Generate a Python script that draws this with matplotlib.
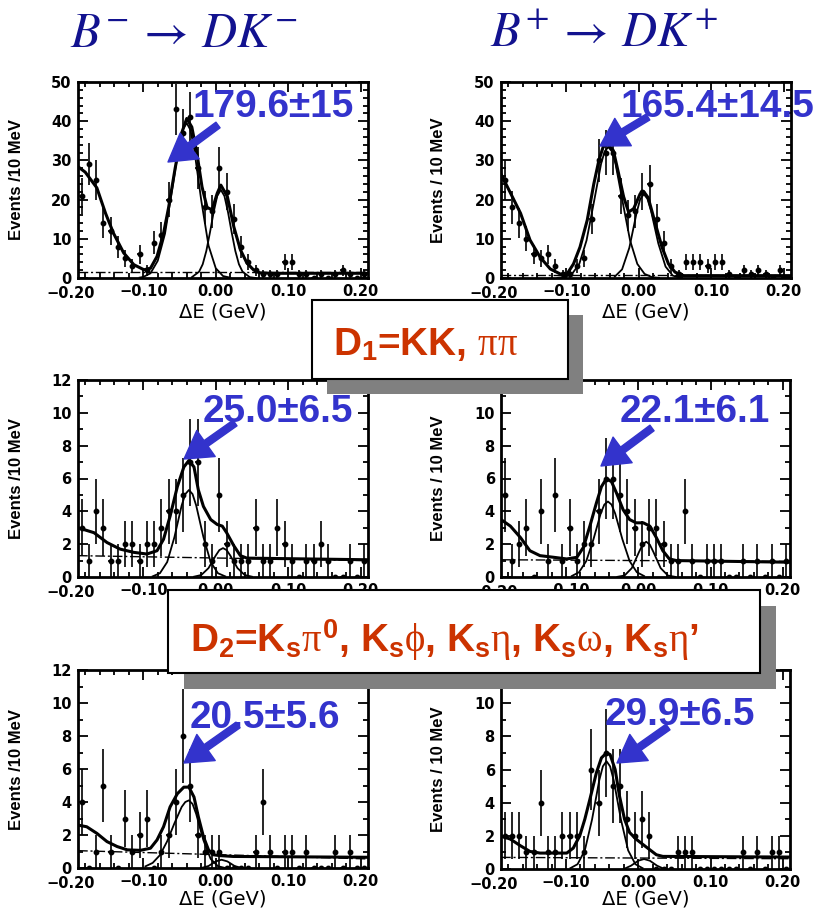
import numpy as np
import matplotlib
matplotlib.use('Agg')
import matplotlib.pyplot as plt
from matplotlib import font_manager as fm
from matplotlib.patches import Rectangle, FancyArrowPatch
from matplotlib.ticker import FixedLocator, FixedFormatter, MultipleLocator
import matplotlib.transforms as mtransforms

W, H, DPI = 822, 909, 100

# ---------------- data ----------------
bin_centers = [-0.185, -0.175, -0.165, -0.155, -0.145, -0.135, -0.125, -0.115, -0.105, -0.095,
               -0.085, -0.075, -0.065, -0.055, -0.045, -0.035, -0.025, -0.015, -0.005, 0.005,
               0.015, 0.025, 0.035, 0.045, 0.055, 0.065, 0.075, 0.085, 0.095, 0.105,
               0.115, 0.125, 0.135, 0.145, 0.155, 0.165, 0.175, 0.185, 0.195, 0.205]

# events per 10 MeV bin
counts_kpi_minus = [21, 29, 25, 14, 12, 8, 5, 3, 6, 2, 9, 11, 20, 43, 37, 41, 28, 18, 17, 28,
                    22, 15, 8, 4, 2, 1, 1, 1, 4, 4, 1, 1, 0, 1, 0, 1, 2, 1, 0, 1]
counts_kpi_plus = [25, 18, 14, 10, 6, 5, 6, 3, 1, 1, 3, 5, 15, 30, 32, 32, 21, 16, 17, 22,
                   24, 15, 9, 3, 1, 4, 4, 4, 3, 4, 4, 1, 0, 2, 1, 2, 1, 0, 2, 0]
counts_d1_minus = [3, 1, 4, 3, 1, 1, 2, 2, 1, 2, 2, 3, 4, 4, 5, 7, 7, 2, 1, 5,
                   2, 1, 1, 1, 3, 1, 1, 3, 2, 1, 0, 1, 1, 2, 1, 0, 0, 1, 0, 1]
counts_d1_plus = [5, 1, 2, 3, 0, 4, 1, 5, 1, 3, 1, 2, 2, 4, 6, 6, 5, 4, 3, 2,
                  3, 3, 2, 1, 1, 4, 1, 0, 1, 1, 1, 0, 0, 1, 0, 1, 0, 1, 0, 1]
counts_d2_minus = [4, 0, 1, 5, 1, 0, 3, 1, 2, 3, 0, 1, 2, 4, 8, 5, 2, 1, 1, 1,
                   0, 0, 0, 0, 1, 4, 1, 0, 1, 1, 0, 1, 0, 0, 0, 1, 0, 1, 0, 0]
counts_d2_plus = [2, 2, 2, 1, 1, 4, 1, 1, 2, 2, 2, 1, 6, 4, 7, 5, 5, 3, 2, 3,
                  2, 0, 0, 0, 1, 1, 1, 0, 0, 0, 0, 0, 0, 1, 0, 1, 0, 1, 1, 0]

# fit curves: total
tot1_x = [-0.19, -0.18, -0.164, -0.152, -0.141, -0.127, -0.113, -0.099, -0.09, -0.081, -0.072, -0.065,
          -0.056, -0.047, -0.04, -0.033, -0.026, -0.019, -0.012, -0.005, 0.002, 0.007, 0.016, 0.025,
          0.034, 0.043, 0.052, 0.061, 0.08, 0.21]
tot1_y = [28.4, 27, 23, 16.5, 11.4, 6.4, 3.4, 2.1, 2.5, 5.5, 11.4, 18, 28, 37, 40.7, 38.5, 31.8, 23.3,
          18, 17.4, 21.6, 23.7, 20.8, 13, 7.2, 3.8, 2.1, 1.3, 1.2, 1.2]
tot2_x = [-0.19, -0.177, -0.163, -0.15, -0.136, -0.122, -0.108, -0.099, -0.09, -0.081, -0.071, -0.062,
          -0.055, -0.049, -0.042, -0.035, -0.028, -0.021, -0.014, -0.007, 0.002, 0.007, 0.013, 0.023,
          0.032, 0.041, 0.05, 0.062, 0.21]
tot2_y = [26.5, 21.7, 16.5, 9.7, 5.3, 2.3, 1.0, 1.0, 3.6, 7.9, 14.8, 24, 30, 33.5, 34, 32.5, 26.8,
          20.8, 16.8, 17.7, 21.5, 22, 20.5, 13.8, 7.9, 3.6, 1.5, 0.6, 0.6]
tot3_x = [-0.19, -0.168, -0.15, -0.132, -0.113, -0.095, -0.081, -0.072, -0.063, -0.053, -0.044, -0.037,
          -0.03, -0.024, -0.017, -0.007, 0.002, 0.009, 0.015, 0.025, 0.034, 0.043, 0.21]
tot3_y = [3.0, 2.7, 2.1, 1.7, 1.5, 1.4, 1.6, 2.3, 3.7, 5.5, 6.7, 7.1, 6.7, 5.3, 4.3, 3.5, 3.2, 3.1,
          2.7, 1.9, 1.3, 1.15, 1.05]
tot4_x = [-0.19, -0.177, -0.163, -0.15, -0.136, -0.117, -0.099, -0.085, -0.076, -0.067, -0.058, -0.051,
          -0.044, -0.037, -0.03, -0.021, -0.012, -0.003, 0.007, 0.016, 0.025, 0.034, 0.043, 0.053, 0.21]
tot4_y = [3.5, 3.1, 2.4, 1.6, 1.3, 1.2, 1.1, 1.2, 1.8, 3.1, 4.5, 5.5, 6.0, 5.8, 5.1, 4.1, 3.5, 3.3,
          3.3, 3.1, 2.4, 1.6, 1.1, 1.0, 0.9]
tot5_x = [-0.19, -0.178, -0.164, -0.15, -0.136, -0.122, -0.104, -0.09, -0.081, -0.072, -0.063, -0.053,
          -0.044, -0.037, -0.03, -0.024, -0.017, -0.01, -0.003, 0.006, 0.024, 0.21]
tot5_y = [2.6, 2.5, 2.1, 1.6, 1.3, 1.1, 1.07, 1.2, 1.7, 2.5, 3.7, 4.5, 4.9, 4.9, 4.3, 3.1, 1.9, 1.1,
          0.8, 0.75, 0.7, 0.65]
tot6_x = [-0.19, -0.177, -0.163, -0.15, -0.136, -0.117, -0.099, -0.09, -0.081, -0.074, -0.067, -0.058,
          -0.051, -0.044, -0.039, -0.032, -0.026, -0.019, -0.012, -0.003, 0.007, 0.016, 0.025, 0.034, 0.21]
tot6_y = [2.0, 1.8, 1.4, 1.06, 0.96, 0.96, 0.96, 1.26, 2.0, 3.0, 4.2, 5.8, 6.7, 7.0, 6.9, 6.0, 4.4,
          3.0, 2.2, 1.8, 1.46, 1.16, 0.86, 0.76, 0.72]

# fit curves: D K signal component
sig1_x = [-0.105, -0.1, -0.09, -0.08, -0.07, -0.06, -0.05, -0.045, -0.04, -0.035, -0.03, -0.02, -0.01, 0.0, 0.01, 0.02]
sig1_y = [0.1, 0.27, 1.2, 4.4, 11.3, 22.8, 34.4, 38.1, 39.5, 37.8, 33.2, 19.8, 8.3, 2.5, 0.5, 0.08]
sig2_x = [-0.112, -0.102, -0.092, -0.082, -0.072, -0.062, -0.052, -0.047, -0.042, -0.037, -0.032, -0.022,
          -0.012, -0.002, 0.008, 0.018, 0.028]
sig2_y = [0.04, 0.23, 1.05, 3.6, 9.6, 19.2, 29.1, 32.3, 33.4, 32.3, 29.1, 19.2, 9.6, 3.6, 1.05, 0.23, 0.04]
sig3_x = [-0.087, -0.077, -0.067, -0.057, -0.047, -0.042, -0.037, -0.032, -0.027, -0.017, -0.007, 0.003, 0.013]
sig3_y = [0.04, 0.23, 0.91, 2.43, 4.36, 5.05, 5.3, 5.05, 4.36, 2.43, 0.91, 0.23, 0.04]
sig4_x = [-0.092, -0.082, -0.072, -0.062, -0.052, -0.047, -0.042, -0.037, -0.032, -0.022, -0.012, -0.002, 0.008]
sig4_y = [0.06, 0.29, 0.97, 2.3, 3.87, 4.41, 4.6, 4.41, 3.87, 2.3, 0.97, 0.29, 0.06]
sig5_x = [-0.097, -0.087, -0.077, -0.067, -0.057, -0.047, -0.042, -0.037, -0.032, -0.027, -0.017, -0.007, 0.003, 0.013]
sig5_y = [0.1, 0.31, 0.78, 1.62, 2.71, 3.7, 4.0, 4.1, 3.88, 3.28, 1.68, 0.55, 0.11, 0.0]
sig6_x = [-0.094, -0.084, -0.074, -0.064, -0.054, -0.049, -0.044, -0.039, -0.034, -0.024, -0.014, -0.004, 0.006]
sig6_y = [0.05, 0.29, 1.12, 2.98, 5.35, 6.19, 6.5, 6.19, 5.35, 2.98, 1.12, 0.29, 0.05]

# fit curves: D pi feed-across component
sec1_x = [-0.033, -0.023, -0.018, -0.013, -0.008, -0.003, 0.002, 0.007, 0.012, 0.017, 0.022, 0.027, 0.032, 0.037, 0.047, 0.055]
sec1_y = [0.2, 1.6, 3.5, 6.9, 11.6, 16.7, 20.9, 22.5, 20.9, 16.7, 11.6, 6.9, 3.5, 1.6, 0.2, 0.0]
sec2_x = [-0.033, -0.023, -0.013, -0.003, 0.002, 0.007, 0.012, 0.017, 0.027, 0.037, 0.047, 0.057]
sec2_y = [0.36, 2.2, 7.7, 16.6, 20.1, 21.4, 20.2, 17.1, 8.8, 2.9, 0.6, 0.09]
sec3_x = [-0.03, -0.02, -0.01, 0.0, 0.005, 0.01, 0.015, 0.02, 0.03, 0.04, 0.05]
sec3_y = [0.02, 0.12, 0.54, 1.31, 1.64, 1.76, 1.64, 1.31, 0.54, 0.12, 0.02]
sec4_x = [-0.029, -0.019, -0.009, 0.001, 0.006, 0.011, 0.016, 0.021, 0.031, 0.041, 0.051]
sec4_y = [0.01, 0.09, 0.54, 1.52, 1.97, 2.15, 1.97, 1.52, 0.54, 0.09, 0.01]
sec5_x = [-0.02, -0.01, 0.0, 0.008, 0.016, 0.026, 0.036]
sec5_y = [0.0, 0.12, 0.4, 0.5, 0.4, 0.12, 0.0]
sec6_x = [-0.02, -0.01, 0.0, 0.008, 0.016, 0.026, 0.036]
sec6_y = [0.0, 0.2, 0.5, 0.6, 0.5, 0.2, 0.0]

# combinatorial background level at left / right edge
flat_levels = [(1.6, 1.6), (0.8, 0.8), (1.3, 1.0), (1.05, 0.95), (1.05, 0.55), (0.7, 0.62)]

yield_labels = ['179.6\u00b115', '165.4\u00b114.5', '25.0\u00b16.5', '22.1\u00b16.1', '20.5\u00b15.6', '29.9\u00b16.5']
ylabels = ['Events /10 MeV', 'Events / 10 MeV'] * 3
ymaxes = [50, 50, 12, 12, 12, 12]
xtick_vals = [-0.1, 0.0, 0.1, 0.2]
xtick_text = ['\u22120.10', '0.00', '0.10', '0.20']

counts_all = [counts_kpi_minus, counts_kpi_plus, counts_d1_minus, counts_d1_plus, counts_d2_minus, counts_d2_plus]
tot_all = [(tot1_x, tot1_y), (tot2_x, tot2_y), (tot3_x, tot3_y), (tot4_x, tot4_y), (tot5_x, tot5_y), (tot6_x, tot6_y)]
sig_all = [(sig1_x, sig1_y), (sig2_x, sig2_y), (sig3_x, sig3_y), (sig4_x, sig4_y), (sig5_x, sig5_y), (sig6_x, sig6_y)]
sec_all = [(sec1_x, sec1_y), (sec2_x, sec2_y), (sec3_x, sec3_y), (sec4_x, sec4_y), (sec5_x, sec5_y), (sec6_x, sec6_y)]

# ---------------- style ----------------
names = {f.name for f in fm.fontManager.ttflist}
NARROW = 'Liberation Sans Narrow' in names
NFONT = 'Liberation Sans Narrow' if NARROW else 'Liberation Sans'
SC = 1.0 if NARROW else 0.82

plt.rcParams['mathtext.fontset'] = 'custom'
plt.rcParams['mathtext.rm'] = NFONT + ':bold'
plt.rcParams['mathtext.bf'] = NFONT + ':bold'
plt.rcParams['mathtext.sf'] = NFONT + ':bold'
plt.rcParams['mathtext.it'] = 'Liberation Serif'

BLUE = '#3333cc'
RED = '#cc3300'
NAVY = '#12128f'
GRAY = '#808080'
XPAD = 4.5
CORNER_PAD = 6.0

fig = plt.figure(figsize=(W / DPI, H / DPI), dpi=DPI)
fig.patch.set_facecolor('white')

def fx(px):
    return px / W

def fy(py):
    return 1 - py / H

# axes frames in image pixels: (left, top, right, bottom)
frames = [(78, 82, 368, 278), (501, 82, 791, 278),
          (78, 380, 368, 577), (501, 380, 790, 577),
          (78, 670, 368, 868), (501, 670, 790, 869)]
ylabel_px = [17, 438] * 3
# centre of the visible Delta E axis titles (middle row is covered by the mode box)
xlabel_py = [312, 312, None, None, 899, 899]

for i, (x0, y0, x1, y1) in enumerate(frames):
    ax = fig.add_axes([fx(x0), fy(y1), (x1 - x0) / W, (y1 - y0) / H])
    ax.set_xlim(-0.19, 0.21)
    ax.set_ylim(0, ymaxes[i])
    cnt = np.array(counts_all[i], dtype=float)
    ax.errorbar(bin_centers, cnt, yerr=np.sqrt(cnt), xerr=0.003, fmt='o', ms=3.2,
                color='black', elinewidth=1.2, capsize=0, zorder=3)
    ax.plot(*tot_all[i], color='black', lw=2.2, zorder=4)
    ax.plot(*sig_all[i], color='black', lw=1.3, zorder=4)
    ax.plot(*sec_all[i], color='black', lw=1.3, zorder=4)
    ax.plot([-0.19, 0.21], list(flat_levels[i]), color='black', lw=1.0,
            linestyle=(0, (7, 2, 1.5, 2)), zorder=4)

    for sp in ax.spines.values():
        sp.set_linewidth(2)
    ax.xaxis.set_major_locator(FixedLocator(xtick_vals))
    ax.xaxis.set_major_formatter(FixedFormatter(xtick_text))
    ax.xaxis.set_minor_locator(MultipleLocator(0.02))
    if ymaxes[i] == 50:
        ax.yaxis.set_major_locator(MultipleLocator(10))
        ax.yaxis.set_minor_locator(MultipleLocator(2))
    else:
        ax.yaxis.set_major_locator(MultipleLocator(2))
        ax.yaxis.set_minor_locator(MultipleLocator(1))
    ax.tick_params(which='both', direction='in', top=True, right=True, width=1.3)
    ax.tick_params(which='major', length=7, labelsize=10.5)
    ax.tick_params(axis='x', which='major', pad=XPAD)
    ax.tick_params(axis='y', which='major', pad=4.5)
    ax.tick_params(which='minor', length=3.5)
    for lab in ax.get_xticklabels() + ax.get_yticklabels():
        lab.set_fontweight('bold')
        lab.set_family('DejaVu Sans')
    # the -0.20 label sits just outside the frame, below the y "0"
    tr = mtransforms.blended_transform_factory(ax.transData, ax.transAxes) + \
        mtransforms.ScaledTranslation(0, -CORNER_PAD / 72, fig.dpi_scale_trans)
    ax.text(-0.2, 0, '\u22120.20', transform=tr, ha='center', va='top', fontsize=10.5,
            fontweight='bold', family='DejaVu Sans', clip_on=False)

    # axis titles
    fig.text(fx(ylabel_px[i]), fy((y0 + y1) / 2), ylabels[i], rotation=90, ha='center', va='center',
             fontsize=12, fontweight='bold', family='Liberation Sans', zorder=3)
    if xlabel_py[i] is not None:
        fig.text(fx((x0 + x1) / 2), fy(xlabel_py[i]), '\u0394E (GeV)', ha='center', va='center',
                 fontsize=14, family='DejaVu Sans', zorder=3)

# ---------------- yields and arrows ----------------
text_pos = [(192, 117), (620, 117), (203, 422), (620, 422), (190, 728), (605, 725)]
arrow_pos = [((218, 125), (168, 162)), ((648, 117), (600, 146)),
             ((235, 423), (184, 459)), ((652, 428), (601, 466)),
             ((238, 725), (184, 763)), ((668, 727), (617, 763))]
for i in range(6):
    fig.text(fx(text_pos[i][0]), fy(text_pos[i][1]), yield_labels[i], ha='left', va='baseline',
             fontsize=34 * SC, fontweight='bold', family=NFONT, color=BLUE, zorder=8)
    (tx, ty), (hx, hy) = arrow_pos[i]
    arr = FancyArrowPatch((fx(tx), fy(ty)), (fx(hx), fy(hy)), transform=fig.transFigure,
                          arrowstyle='simple,head_length=0.97,head_width=1.15,tail_width=0.25',
                          mutation_scale=20, color=BLUE, shrinkA=0, shrinkB=0, zorder=8)
    fig.add_artist(arr)

# ---------------- titles ----------------
fig.text(fx(70), fy(47), r'$B^{-}\,\rightarrow\, DK^{-}$', ha='left', va='baseline', fontsize=35,
         color=NAVY, math_fontfamily='stix')
fig.text(fx(490), fy(47), r'$B^{+}\,\rightarrow\, DK^{+}$', ha='left', va='baseline', fontsize=35,
         color=NAVY, math_fontfamily='stix')

# ---------------- mode boxes ----------------
def box(x0, y0, x1, y1, off):
    sh = Rectangle((fx(x0 + off), fy(y1 + off)), (x1 - x0) / W, (y1 - y0) / H,
                   transform=fig.transFigure, facecolor=GRAY, edgecolor='none', zorder=6)
    bx = Rectangle((fx(x0), fy(y1)), (x1 - x0) / W, (y1 - y0) / H,
                   transform=fig.transFigure, facecolor='white', edgecolor='black', lw=1.5, zorder=7)
    fig.add_artist(sh)
    fig.add_artist(bx)

box(312, 300, 568, 379, 15)
box(168, 590, 760, 673, 16)
fig.text(fx(333), fy(355), r'D$_1$=KK, $\pi\pi$', ha='left', va='baseline', fontsize=34 * SC,
         fontweight='bold', family=NFONT, color=RED, zorder=9)
fig.text(fx(190), fy(652),
         r'D$_2$=K$_\mathrm{s}\pi^0$, K$_\mathrm{s}\phi$, K$_\mathrm{s}\eta$, K$_\mathrm{s}\omega$, K$_\mathrm{s}\eta$' + '\u2019',
         ha='left', va='baseline', fontsize=34 * SC, fontweight='bold', family=NFONT, color=RED, zorder=9)

fig.savefig('out.png', dpi=DPI)
